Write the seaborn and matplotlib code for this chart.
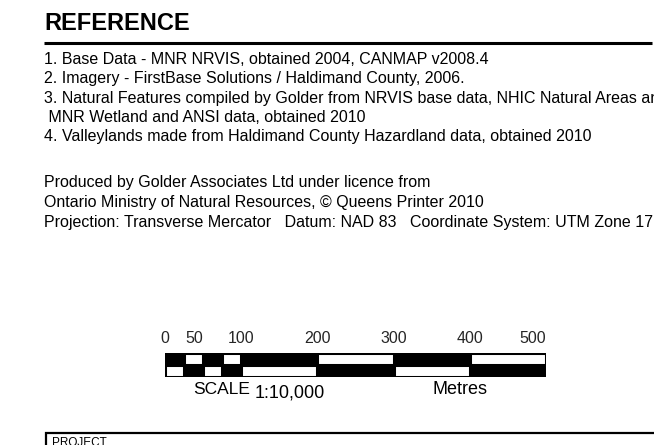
import matplotlib
matplotlib.use("Agg")
import matplotlib.pyplot as plt
import seaborn as sns

# data
note_lines = [
    "1. Base Data - MNR NRVIS, obtained 2004, CANMAP v2008.4",
    "2. Imagery - FirstBase Solutions / Haldimand County, 2006.",
    "3. Natural Features compiled by Golder from NRVIS base data, NHIC Natural Areas and",
    " MNR Wetland and ANSI data, obtained 2010",
    "4. Valleylands made from Haldimand County Hazardland data, obtained 2010",
]
credit_lines = [
    "Produced by Golder Associates Ltd under licence from",
    "Ontario Ministry of Natural Resources, \u00a9 Queens Printer 2010",
    "Projection: Transverse Mercator   Datum: NAD 83   Coordinate System: UTM Zone 17",
]
scale_edges = [0, 25, 50, 75, 100, 200, 300, 400, 500]
top_row_white = [False, True, False, True, False, True, False, True]
tick_values = [0, 50, 100, 200, 300, 400, 500]
tick_labels = ["0", "50", "100", "200", "300", "400", "500"]
tick_align = ["center", "right", "center", "center", "center", "center", "right"]

sns.set_theme(style="white")
plt.rcParams["font.family"] = ["Liberation Sans", "DejaVu Sans"]

W, H = 654, 445
fig = plt.figure(figsize=(W / 100, H / 100), dpi=100)
fig.patch.set_facecolor("white")

# page axes in pixel units
page = fig.add_axes([0, 0, 1, 1])
page.set_xlim(0, W)
page.set_ylim(H, 0)
page.axis("off")

left = 44
page.text(left, 24, "REFERENCE", fontsize=17, fontweight="bold", va="center", ha="left", color="black")
page.plot([left, 652], [42.5, 42.5], color="black", lw=2.2, solid_capstyle="butt")

y_notes = [59, 78.5, 98, 117.5, 137]
for y, line in zip(y_notes, note_lines):
    page.text(left, y, line, fontsize=11.5, va="center", ha="left", color="black", clip_on=True)

y_credit = [183, 202.5, 222]
for y, line in zip(y_credit, credit_lines):
    page.text(left, y, line, fontsize=11.5, va="center", ha="left", color="black", clip_on=True)

page.text(193, 390, "SCALE", fontsize=12.5, va="center", ha="left", color="black")
page.text(255, 392.5, "1:10,000", fontsize=13, va="center", ha="left", color="black")
page.text(433, 389.5, "Metres", fontsize=13, va="center", ha="left", color="black")

# project box at the bottom
page.plot([45.5, 45.5, 660], [450, 433, 433], color="black", lw=1.6, solid_joinstyle="miter")
page.text(52, 437.5, "PROJECT", fontsize=8.5, va="top", ha="left", color="black")

# scale bar
x0, x1, y0, y1 = 165, 546, 353, 377
bar = fig.add_axes([x0 / W, 1 - y1 / H, (x1 - x0) / W, (y1 - y0) / H])
bar.set_xlim(0, 500)
bar.set_ylim(1.5, -0.5)
for row in [0, 1]:
    bar.barh(row, 500, left=0, height=1, color="black", linewidth=0)
    for i in range(len(scale_edges) - 1):
        white = top_row_white[i] if row == 0 else not top_row_white[i]
        if white:
            bar.barh(row, scale_edges[i + 1] - scale_edges[i], left=scale_edges[i], height=1,
                     color="white", edgecolor="black", linewidth=2.2)
for s in bar.spines.values():
    s.set_visible(False)
bar.set_yticks([])
bar.xaxis.tick_top()
bar.set_xticks(tick_values)
bar.set_xticklabels(tick_labels, fontsize=11.5)
bar.tick_params(axis="x", length=0, pad=5)
for lab, ha in zip(bar.get_xticklabels(), tick_align):
    lab.set_ha(ha)

fig.savefig("out.png", dpi=100, facecolor="white")
